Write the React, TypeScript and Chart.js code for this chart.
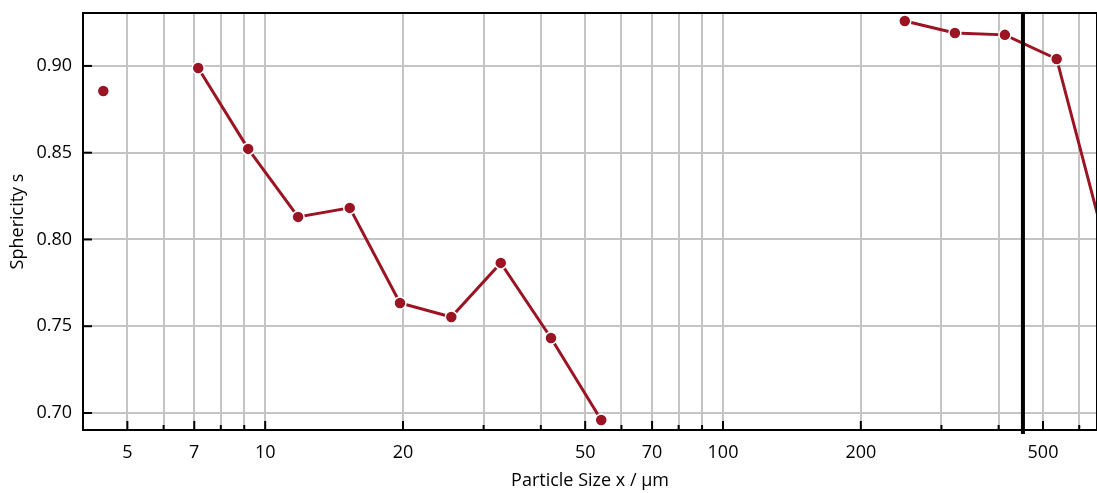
import React, { useEffect, useRef } from 'react';
import { Chart, registerables } from 'chart.js';

Chart.register(...registerables);

// Particle size classes (µm) and measured sphericity (null = no data)
const particleSizes = [4.43, 5.7, 7.14, 9.18, 11.8, 15.3, 19.7, 25.5, 32.7, 42.1, 54.2, 69.7, 89.6, 115, 148, 191, 249.5, 321, 412.8, 535.6, 689];
const sphericity = [0.8856, null, 0.8988, 0.8522, 0.813, 0.8182, 0.7634, 0.7553, 0.7865, 0.7432, 0.696, null, null, null, null, null, 0.9259, 0.919, 0.9179, 0.904, 0.794];

const xGridValues = [5, 6, 7, 8, 9, 10, 20, 30, 40, 50, 60, 70, 80, 90, 100, 200, 300, 400, 500, 600];
const xLabelValues = [5, 7, 10, 20, 50, 70, 100, 200, 500];
const yTickValues = [0.7, 0.75, 0.8, 0.85, 0.9];
const markerSize = 452;

const X_MIN = 4;
const X_MAX = 656;
const Y_MIN = 0.6902;
const Y_MAX = 0.9305;

const RED = '#9b1423';
const GRID = '#c4c4c4';
const FONT = "'Open Sans', 'Noto Sans', sans-serif";

const framePlugin = {
  id: 'framePlugin',
  afterDatasetsDraw(chart: any) {
    const { ctx, chartArea, scales } = chart;
    const { left, right, top, bottom } = chartArea;
    const x = scales.x;
    const y = scales.y;
    ctx.save();
    // vertical marker line
    const mx = x.getPixelForValue(markerSize);
    ctx.strokeStyle = '#000';
    ctx.lineWidth = 4;
    ctx.beginPath();
    ctx.moveTo(mx, top);
    ctx.lineTo(mx, bottom + 4);
    ctx.stroke();
    // frame
    ctx.lineWidth = 2;
    ctx.strokeRect(left, top, right - left, bottom - top);
    // bottom ticks (inward)
    xGridValues.forEach((v) => {
      const px = x.getPixelForValue(v);
      const len = xLabelValues.includes(v) ? 9 : 5;
      ctx.beginPath();
      ctx.moveTo(px, bottom);
      ctx.lineTo(px, bottom - len);
      ctx.stroke();
    });
    // left ticks (inward)
    yTickValues.forEach((v) => {
      const py = y.getPixelForValue(v);
      ctx.beginPath();
      ctx.moveTo(left, py);
      ctx.lineTo(left + 9, py);
      ctx.stroke();
    });
    ctx.restore();
  },
};

export default function App() {
  const canvasRef = useRef<HTMLCanvasElement | null>(null);

  useEffect(() => {
    const canvas = canvasRef.current;
    if (!canvas) return;
    const data = particleSizes.map((s, i) => ({ x: s, y: sphericity[i] }));
    const chart = new Chart(canvas, {
      type: 'line',
      data: {
        datasets: [
          {
            data: data as any,
            borderColor: RED,
            backgroundColor: RED,
            borderWidth: 3,
            pointRadius: 6,
            pointBorderWidth: 1.5,
            pointBorderColor: '#ffffff',
            pointBackgroundColor: RED,
            spanGaps: false,
            tension: 0,
          },
        ],
      },
      options: {
        animation: false,
        responsive: false,
        maintainAspectRatio: false,
        layout: { autoPadding: false, padding: { top: 13, left: 0, right: 0, bottom: 0 } },
        plugins: {
          legend: { display: false },
          tooltip: { enabled: false },
        },
        scales: {
          x: {
            type: 'logarithmic',
            min: X_MIN,
            max: X_MAX,
            afterBuildTicks: (s: any) => {
              s.ticks = xGridValues.map((v) => ({ value: v }));
            },
            afterFit: (s: any) => {
              s.height = 63;
              s.paddingLeft = 0;
              s.paddingRight = 0;
            },
            ticks: {
              autoSkip: false,
              maxRotation: 0,
              minRotation: 0,
              padding: 12,
              color: '#000',
              font: { family: FONT, size: 18 },
              callback: (v: any) => (xLabelValues.includes(Number(v)) ? String(v) : ''),
            },
            grid: { color: GRID, lineWidth: 2, drawTicks: false },
            border: { display: false },
            title: {
              display: true,
              text: 'Particle Size x / µm',
              color: '#000',
              font: { family: FONT, size: 18 },
              padding: { top: 0, bottom: 1 },
            },
          },
          y: {
            type: 'linear',
            min: Y_MIN,
            max: Y_MAX,
            afterBuildTicks: (s: any) => {
              s.ticks = yTickValues.map((v) => ({ value: v }));
            },
            afterFit: (s: any) => {
              s.width = 83;
              s.paddingTop = 0;
              s.paddingBottom = 0;
            },
            ticks: {
              padding: 11,
              color: '#000',
              font: { family: FONT, size: 18 },
              callback: (v: any) => Number(v).toFixed(2),
            },
            grid: { color: GRID, lineWidth: 2, drawTicks: false },
            border: { display: false },
            title: {
              display: true,
              text: 'Sphericity s',
              color: '#000',
              font: { family: FONT, size: 18 },
              padding: { top: 7, bottom: 0 },
            },
          },
        },
      },
      plugins: [framePlugin],
    });
    return () => chart.destroy();
  }, []);

  return (
    <div style={{ position: 'fixed', left: 0, top: 0, width: 1097, height: 493, background: '#fff' }}>
      <canvas ref={canvasRef} width={1097} height={493} style={{ width: 1097, height: 493, display: 'block' }} />
    </div>
  );
}
